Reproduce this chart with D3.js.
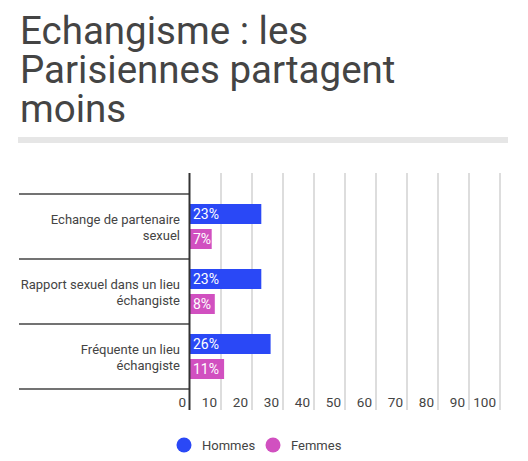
<!DOCTYPE html>
<html>
<head>
<meta charset="utf-8">
<script src="https://cdn.jsdelivr.net/npm/d3@7"></script>
<style>
  body { margin: 0; background: #fff; font-family: Roboto, "Noto Sans", sans-serif; }
  svg text { fill: #444; }
</style>
</head>
<body>
<div id="chart"></div>
<script>
const titleLines = ["Echangisme : les", "Parisiennes partagent", "moins"];
const categories = [["Echange de partenaire", "sexuel"], ["Rapport sexuel dans un lieu", "échangiste"], ["Fréquente un lieu", "échangiste"]];
const series = ["Hommes", "Femmes"];
const hommes = [23, 23, 26];
const femmes = [7, 8, 11];
const xTicks = [0, 10, 20, 30, 40, 50, 60, 70, 80, 90, 100];
const colors = ["#2a48f6", "#d150c0"];

const width = 528, height = 461;
const svg = d3.select("#chart").append("svg").attr("width", width).attr("height", height);

// title
svg.append("g").selectAll("text").data(titleLines).join("text")
  .attr("x", 20).attr("y", (d, i) => 44 + i * 39)
  .style("font-size", "38.5px").style("fill", "#444").text((d) => d);
svg.append("rect").attr("x", 18).attr("y", 137).attr("width", 490).attr("height", 6).attr("fill", "#e6e6e6");

// plot
const plotTop = 173, plotBottom = 410, bandTop = 194, bandBottom = 389;
const x = d3.scaleLinear().domain([0, 100]).range([190, 500]);
const y = d3.scaleBand().domain(d3.range(categories.length)).range([bandTop, bandBottom]);
const inner = d3.scaleBand().domain(series).range([10, y.bandwidth() - 10]).paddingInner(0.2);

const grid = svg.append("g");
grid.selectAll("line").data(xTicks.slice(1)).join("line")
  .attr("x1", (d) => x(d)).attr("x2", (d) => x(d)).attr("y1", plotTop).attr("y2", plotBottom)
  .attr("stroke", "#bbb").attr("stroke-width", 1);

// category separators
svg.append("g").selectAll("line").data(d3.range(categories.length + 1)).join("line")
  .attr("x1", 19).attr("x2", 190)
  .attr("y1", (d) => bandTop + d * y.bandwidth()).attr("y2", (d) => bandTop + d * y.bandwidth())
  .attr("stroke", "#444").attr("stroke-width", 1.3);

// tick labels
svg.append("g").selectAll("text").data(xTicks).join("text")
  .attr("x", (d) => x(d) - 4).attr("y", 407)
  .attr("text-anchor", "end").style("font-size", "13.5px").text((d) => d);

// category labels
const labels = svg.append("g").selectAll("text").data(categories).join("text")
  .attr("text-anchor", "end").style("font-size", "13px");
labels.selectAll("tspan").data((d, i) => d.map((line, j) => ({ line, j, i }))).join("tspan")
  .attr("x", 180).attr("y", (d) => y(d.i) + y.bandwidth() / 2 - 3 + d.j * 16).text((d) => d.line);

// bars
const rows = categories.map((c, i) => [
  { s: series[0], v: hommes[i], i },
  { s: series[1], v: femmes[i], i }
]).flat();
const bars = svg.append("g").selectAll("g").data(rows).join("g")
  .attr("transform", (d) => `translate(0,${y(d.i) + inner(d.s)})`);
bars.append("rect").attr("x", x(0)).attr("width", (d) => x(d.v) - x(0))
  .attr("height", inner.bandwidth()).attr("fill", (d) => colors[series.indexOf(d.s)]);
bars.append("text").attr("x", x(0) + 3).attr("y", inner.bandwidth() / 2 + 5)
  .style("font-size", "14px").style("fill", "#fff").text((d) => `${d.v}%`);

// axis line
svg.append("line").attr("x1", 189.5).attr("x2", 189.5).attr("y1", plotTop).attr("y2", plotBottom)
  .attr("stroke", "#333").attr("stroke-width", 2);

// legend
const legend = svg.append("g").selectAll("g").data(series).join("g")
  .attr("transform", (d, i) => `translate(${184 + i * 89},445)`);
legend.append("circle").attr("r", 7.5).attr("fill", (d, i) => colors[i]);
legend.append("text").attr("x", 18).attr("y", 5).style("font-size", "13px").text((d) => d);
</script>
</body>
</html>
